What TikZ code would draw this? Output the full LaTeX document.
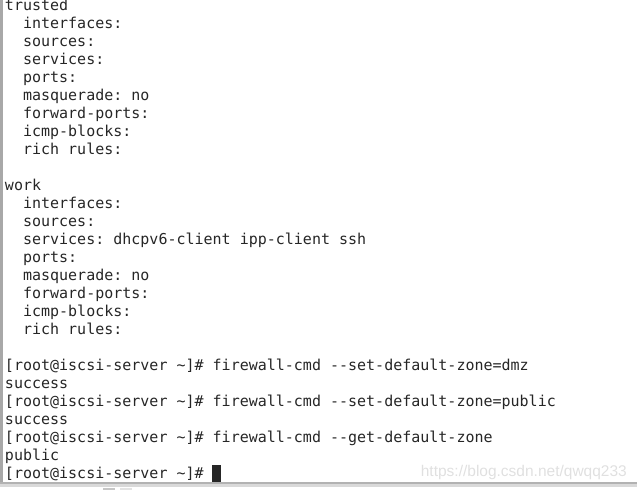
\documentclass[tikz,border=0pt]{standalone}
\usepackage{fontspec}
\setmainfont{Liberation Sans}
\setmonofont{DejaVu Sans Mono}
\usetikzlibrary{positioning}
\definecolor{termtext}{HTML}{262626}
\definecolor{termedge}{HTML}{A8A8A8}
\definecolor{markgray}{HTML}{E0E0E0}
\tikzset{termline/.style={anchor=base west,inner sep=0pt,outer sep=0pt,text=termtext,font=\ttfamily\fontsize{15}{18}\selectfont}}
\tikzset{watermark/.style={anchor=base east,inner sep=0pt,text=markgray,font=\fontsize{15.5}{18}\selectfont}}

\begin{document}
\begin{tikzpicture}[x=1pt,y=-1pt]
		\useasboundingbox (0,0) rectangle (637,490);
		% window edges
		\fill[termedge] (0,0) rectangle (2.5,483);
		\fill[gray!60] (0,482) rectangle (637,484);
		\fill[gray!30] (0,484) rectangle (637,486.5);
		\fill[gray!45] (103,487.5) rectangle (115,490);
		\fill[gray!22] (120,487.5) rectangle (132,490);
		% terminal lines
		\foreach \i/\x/\txt in {0/0/trusted, 1/2/interfaces:, 2/2/sources:, 3/2/services:, 4/2/ports:,
			5/2/masquerade: no, 6/2/forward-ports:, 7/2/icmp-blocks:, 8/2/rich rules:,
			10/0/work, 11/2/interfaces:, 12/2/sources:, 13/2/services: dhcpv6-client ipp-client ssh,
			14/2/ports:, 15/2/masquerade: no, 16/2/forward-ports:, 17/2/icmp-blocks:, 18/2/rich rules:,
			20/0/{[root@iscsi-server \textasciitilde]\# firewall-cmd --set-default-zone=dmz},
			21/0/success,
			22/0/{[root@iscsi-server \textasciitilde]\# firewall-cmd --set-default-zone=public},
			23/0/success,
			24/0/{[root@iscsi-server \textasciitilde]\# firewall-cmd --get-default-zone},
			25/0/public,
			26/0/{[root@iscsi-server \textasciitilde]\#}}
			\node[termline] (ln\i) at (5+9.03*\x,10.2+18.02*\i) {\txt};
		% cursor
		\fill[termtext] (212,465) rectangle (221,482);
		\node[watermark] (mark) at (627,476) {https://blog.csdn.net/qwqq233};
	\end{tikzpicture}
\end{document}
